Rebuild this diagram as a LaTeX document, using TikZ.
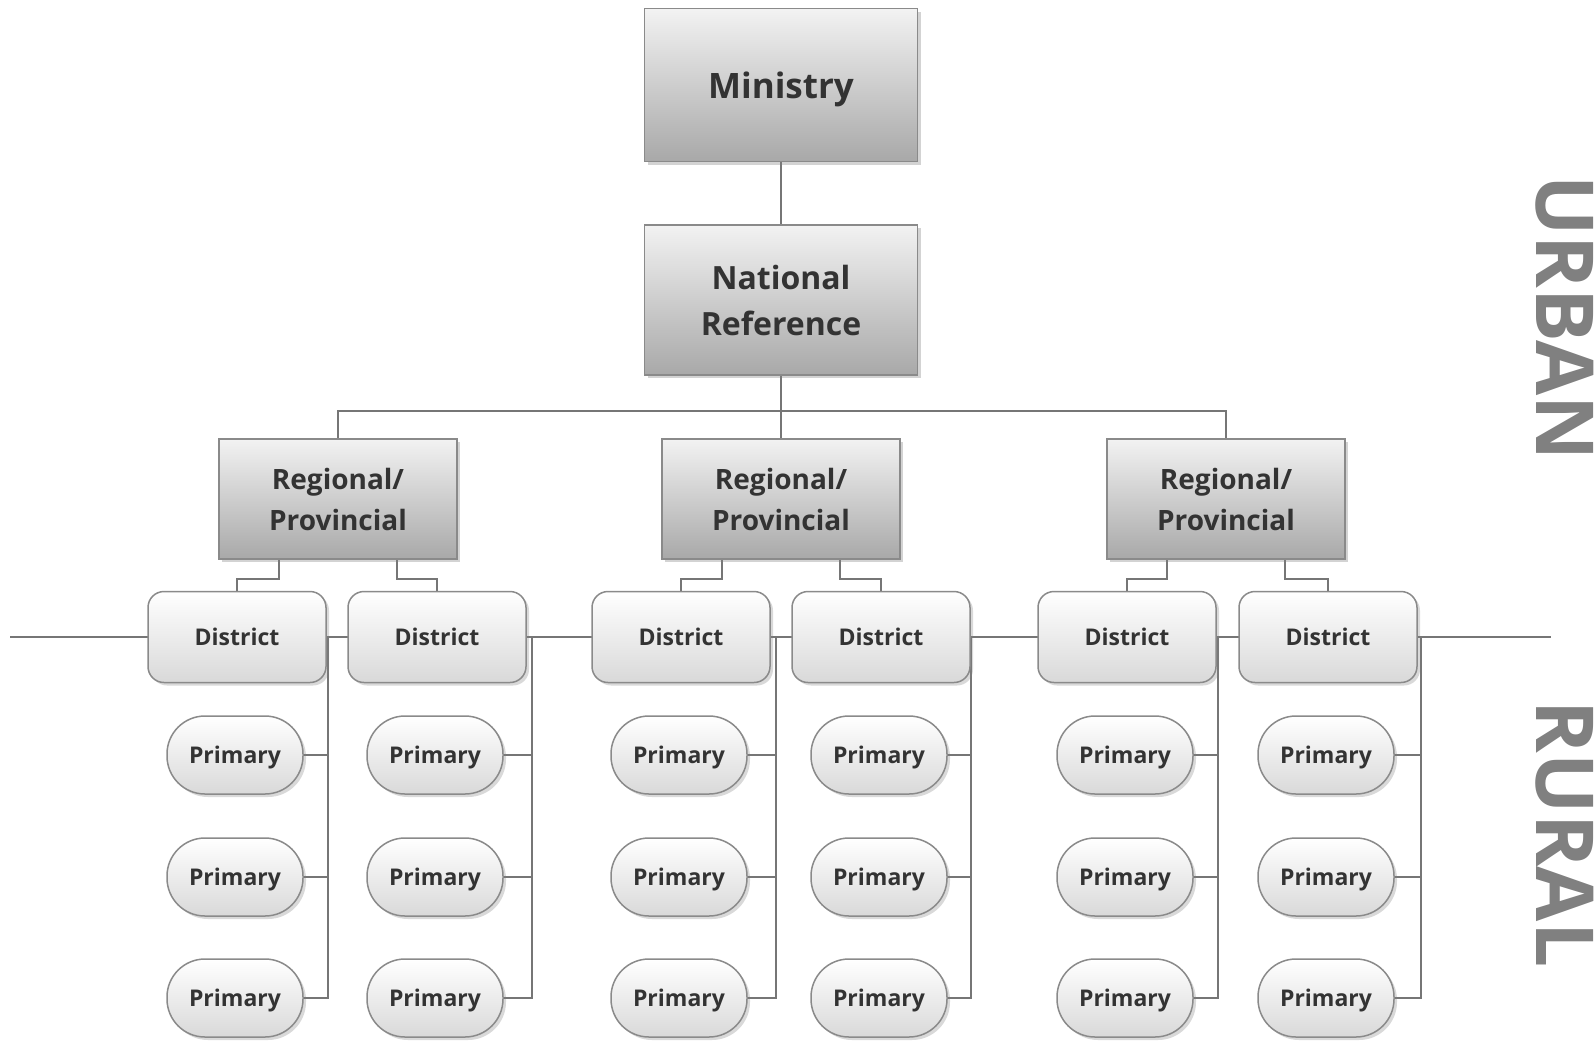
\documentclass[tikz,border=0pt]{standalone}
\usepackage{fontspec}
\setmainfont{Open Sans}
\usetikzlibrary{positioning,shadows,backgrounds}
\definecolor{linegray}{HTML}{767676}
\definecolor{edgegray}{HTML}{8A8A8A}
\definecolor{textgray}{HTML}{333333}
\definecolor{labelgray}{HTML}{808080}
\tikzset{
  topbox/.style={draw=edgegray, line width=1.5pt, top color=gray!10, bottom color=gray!68,
    text=textgray, align=center, inner sep=0pt,
    drop shadow={opacity=0.35, shadow xshift=3pt, shadow yshift=-3pt}},
  distbox/.style={draw=edgegray, line width=1.5pt, rounded corners=16pt, top color=white,
    bottom color=gray!30, text=textgray, font=\fontsize{23}{28}\selectfont\bfseries,
    minimum width=178pt, minimum height=91pt, inner sep=0pt, text depth=0pt,
    drop shadow={opacity=0.3, shadow xshift=3pt, shadow yshift=-3pt}},
  primbox/.style={distbox, rounded corners=38pt, minimum width=136pt, minimum height=78pt},
  link/.style={draw=linegray, line width=2pt},
  sidelabel/.style={text=labelgray, font=\fontsize{80}{82}\selectfont\bfseries, rotate=-90}
}
\begin{document}
\begin{tikzpicture}[x=1pt,y=-1pt]
		\useasboundingbox (0,0) rectangle (1595,1045);
		% upper levels
		\node[topbox, minimum width=273pt, minimum height=153pt, text depth=0pt, font=\fontsize{35}{46}\selectfont\bfseries] (min) at (781,85) {Ministry};
		\node[topbox, minimum width=273pt, minimum height=150pt, font=\fontsize{32}{46}\selectfont\bfseries] (nat) at (781,300) {National\\Reference};
		\node[topbox, minimum width=238pt, minimum height=120pt, font=\fontsize{28}{41}\selectfont\bfseries] (reg1) at (338,499) {Regional/\\Provincial};
		\node[topbox, minimum width=238pt, minimum height=120pt, font=\fontsize{28}{41}\selectfont\bfseries] (reg2) at (781,499) {Regional/\\Provincial};
		\node[topbox, minimum width=238pt, minimum height=120pt, font=\fontsize{28}{41}\selectfont\bfseries] (reg3) at (1226,499) {Regional/\\Provincial};
		% districts
		\node[distbox] (dis1) at (237,637) {District};
		\node[distbox] (dis2) at (437,637) {District};
		\node[distbox] (dis3) at (681,637) {District};
		\node[distbox] (dis4) at (881,637) {District};
		\node[distbox] (dis5) at (1127,637) {District};
		\node[distbox] (dis6) at (1328,637) {District};
		% primary units
		\node[primbox] (p11) at (235,755) {Primary};
		\node[primbox] (p12) at (235,877) {Primary};
		\node[primbox] (p13) at (235,998) {Primary};
		\node[primbox] (p21) at (435,755) {Primary};
		\node[primbox] (p22) at (435,877) {Primary};
		\node[primbox] (p23) at (435,998) {Primary};
		\node[primbox] (p31) at (679,755) {Primary};
		\node[primbox] (p32) at (679,877) {Primary};
		\node[primbox] (p33) at (679,998) {Primary};
		\node[primbox] (p41) at (879,755) {Primary};
		\node[primbox] (p42) at (879,877) {Primary};
		\node[primbox] (p43) at (879,998) {Primary};
		\node[primbox] (p51) at (1125,755) {Primary};
		\node[primbox] (p52) at (1125,877) {Primary};
		\node[primbox] (p53) at (1125,998) {Primary};
		\node[primbox] (p61) at (1326,755) {Primary};
		\node[primbox] (p62) at (1326,877) {Primary};
		\node[primbox] (p63) at (1326,998) {Primary};
		% side labels
		\node[sidelabel] (urban) at (1565,318) {URBAN};
		\node[sidelabel] (rural) at (1565,834) {RURAL};
		\coordinate (bus) at (781,411);
		\coordinate (ul) at (10,637);
		\coordinate (ur) at (1551,637);
		\coordinate (v1) at (328,637);
		\coordinate (v2) at (532,637);
		\coordinate (v3) at (776,637);
		\coordinate (v4) at (971,637);
		\coordinate (v5) at (1218,637);
		\coordinate (v6) at (1421,637);
		\begin{scope}[on background layer]
		\draw[link] (min) -- (nat);
		\draw[link] (nat.south) -- (bus);
		\draw[link] (reg1.north) |- (bus) -| (reg3.north);
		\draw[link] (bus) -- (reg2.north);
		\draw[link] (ul) -- (ur);
		\draw[link] ([xshift=-59pt]reg1.south) -- ++(0,19) -| (dis1.north);
		\draw[link] ([xshift=59pt]reg1.south) -- ++(0,19) -| (dis2.north);
		\draw[link] ([xshift=-59pt]reg2.south) -- ++(0,19) -| (dis3.north);
		\draw[link] ([xshift=59pt]reg2.south) -- ++(0,19) -| (dis4.north);
		\draw[link] ([xshift=-59pt]reg3.south) -- ++(0,19) -| (dis5.north);
		\draw[link] ([xshift=59pt]reg3.south) -- ++(0,19) -| (dis6.north);
		\draw[link] (v1) |- (p13.east);
		\draw[link] (p11.east) -- (p11.east -| v1);
		\draw[link] (p12.east) -- (p12.east -| v1);
		\draw[link] (v2) |- (p23.east);
		\draw[link] (p21.east) -- (p21.east -| v2);
		\draw[link] (p22.east) -- (p22.east -| v2);
		\draw[link] (v3) |- (p33.east);
		\draw[link] (p31.east) -- (p31.east -| v3);
		\draw[link] (p32.east) -- (p32.east -| v3);
		\draw[link] (v4) |- (p43.east);
		\draw[link] (p41.east) -- (p41.east -| v4);
		\draw[link] (p42.east) -- (p42.east -| v4);
		\draw[link] (v5) |- (p53.east);
		\draw[link] (p51.east) -- (p51.east -| v5);
		\draw[link] (p52.east) -- (p52.east -| v5);
		\draw[link] (v6) |- (p63.east);
		\draw[link] (p61.east) -- (p61.east -| v6);
		\draw[link] (p62.east) -- (p62.east -| v6);
		\end{scope}
	\end{tikzpicture}
\end{document}
